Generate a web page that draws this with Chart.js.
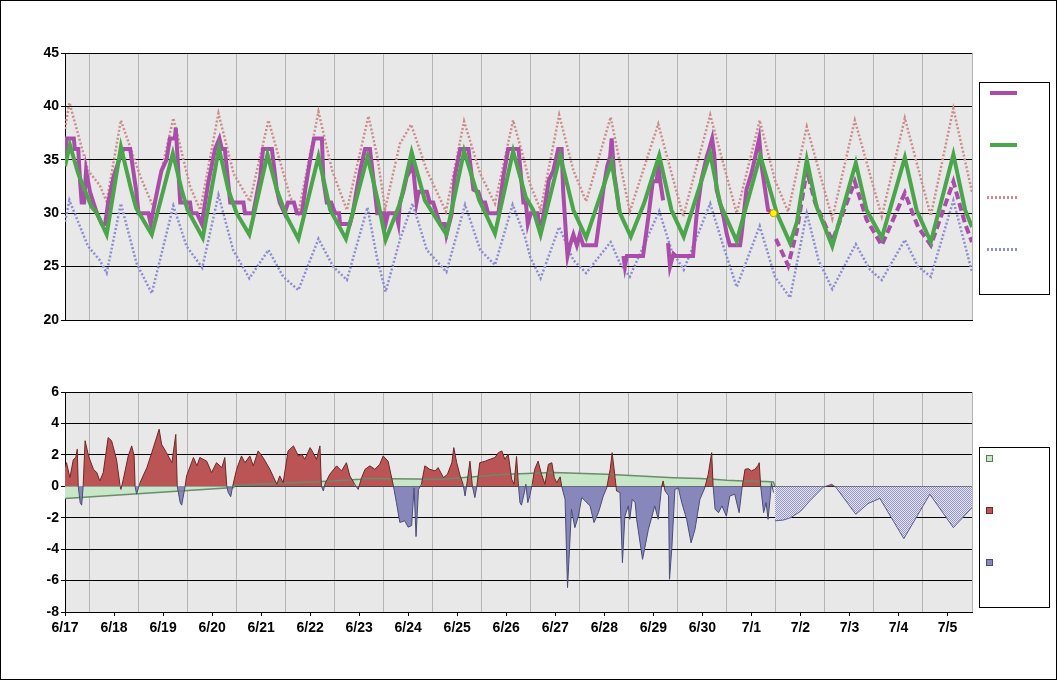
<!DOCTYPE html>
<html>
<head>
<meta charset="utf-8">
<script src="https://cdn.jsdelivr.net/npm/chart.js@4.4.0/dist/chart.umd.min.js"></script>
<style>
  body { margin: 0; background: #fff; }
  #frame { position: absolute; left: 0; top: 0; width: 1055px; height: 678px; border: 1px solid #000; pointer-events: none; }
  .wrap { position: absolute; left: 0; width: 1058px; }
  #topWrap { top: 0; height: 340px; }
  #botWrap { top: 370px; height: 311px; }
  .legend { position: absolute; left: 979px; width: 71px; border: 1.5px solid #000; box-sizing: border-box; background: #fff; }
  .ln { position: absolute; height: 4px; }
  .dot { position: absolute; height: 3px; }
  .sq { position: absolute; width: 5px; height: 5px; border: 1px solid; }
</style>
</head>
<body>
<div id="frame"></div>
<div class="wrap" id="topWrap"><canvas id="topChart"></canvas></div>
<div class="wrap" id="botWrap"><canvas id="botChart"></canvas></div>

<div class="legend" style="top:82px;height:213px"></div>
<div class="ln" style="left:990px;top:91px;width:27px;background:#aa4daa"></div>
<div class="ln" style="left:990px;top:143px;width:27px;background:#4ba64b"></div>
<div class="dot" style="left:987px;top:196px;width:30px;background:repeating-linear-gradient(90deg,#cc8c8c 0 2px,transparent 2px 4px)"></div>
<div class="dot" style="left:987px;top:248px;width:30px;background:repeating-linear-gradient(90deg,#8c8cd2 0 2px,transparent 2px 4px)"></div>

<div class="legend" style="top:447px;height:161px"></div>
<div class="sq" style="left:986px;top:455px;background:#c8e6c8;border-color:#5a7a5a"></div>
<div class="sq" style="left:986px;top:507px;background:#bb5555;border-color:#6e2626"></div>
<div class="sq" style="left:986px;top:559px;background:#8787bb;border-color:#4b4b78"></div>

<script>
// x values are days after 6/17 00:00
var dayLabels = ['6/17','6/18','6/19','6/20','6/21','6/22','6/23','6/24','6/25','6/26',
                 '6/27','6/28','6/29','6/30','7/1','7/2','7/3','7/4','7/5'];

// observed temperature
var obsTemp = [[0,35],[0.035,37],[0.18,37],[0.2,36],[0.27,36],[0.31,32.8],[0.34,31],[0.39,31],[0.43,34],
  [0.51,32],[0.58,31],[0.65,30],[0.75,29],[0.82,29],[0.88,31],[0.99,33.4],[1.09,34.8],[1.19,36],[1.33,36],
  [1.36,35],[1.45,32.2],[1.5,30],[1.7,30],[1.75,29],[1.79,30],[1.94,33.4],[1.97,34],[2.07,35],[2.14,37],
  [2.24,37],[2.26,38],[2.29,35.6],[2.35,31],[2.55,31],[2.58,30],[2.69,30],[2.79,29],[2.92,32.8],[3.06,36],
  [3.15,37],[3.2,36],[3.26,36],[3.37,31],[3.64,31],[3.67,30],[3.84,30],[3.98,33.4],[4.04,36],[4.22,36],
  [4.32,32.2],[4.38,31],[4.48,30],[4.55,31],[4.67,31],[4.73,30],[4.83,30],[4.9,32.2],[5.0,35],[5.08,37],
  [5.24,37],[5.27,33.1],[5.34,31],[5.43,31],[5.51,30],[5.59,30],[5.61,29],[5.81,29],[5.87,30],[5.95,32.2],
  [6.02,34],[6.12,36],[6.22,36],[6.32,32],[6.37,30],[6.51,30],[6.54,29],[6.59,30],[6.75,30],[6.8,29],
  [6.83,31],[6.9,32],[6.97,33.4],[7.04,34],[7.09,34.8],[7.17,31],[7.21,32],[7.38,32],[7.44,31],[7.51,31],
  [7.58,30],[7.65,29],[7.75,29],[7.78,28],[7.89,30],[7.95,33.4],[8.06,36],[8.23,36],[8.33,32.2],[8.43,32],
  [8.5,31],[8.57,31],[8.63,30],[8.84,30],[8.94,33.4],[9.04,36],[9.25,36],[9.35,31],[9.4,31],[9.44,29],
  [9.5,30],[9.64,30],[9.67,29],[9.73,29],[9.87,33.1],[9.96,34],[10.06,36],[10.13,36],[10.16,32.2],
  [10.23,27.2],[10.25,26],[10.3,27],[10.37,28],[10.44,27],[10.5,28],[10.57,27],[10.83,27],[10.91,29.7],
  [10.98,32.2],[11.06,34.4],[11.12,35.3],[11.15,37],[11.2,33.7],[11.25,32.2],[11.3,30.3],[11.34,null],
  [11.39,26],[11.42,25],[11.46,26],[11.79,26],[11.9,29.7],[11.99,33],[12.07,33],[12.1,34.7],[12.14,33],
  [12.2,31.2],[12.25,null],[12.3,27.2],[12.34,25],[12.41,26.2],[12.46,26],[12.81,26],[12.88,29.7],
  [12.98,33.1],[13.09,35.3],[13.14,36],[13.2,37],[13.24,35.6],[13.29,32.2],[13.36,31],[13.43,29.7],
  [13.5,28],[13.56,27],[13.77,27],[13.8,28],[13.9,32.2],[14.0,33.7],[14.07,35.1],[14.16,37],[14.21,34.4],
  [14.28,32.2],[14.34,30.3],[14.45,30]];

// forecast temperature (dashed)
var fcstTemp = [[14.5,27.6],[14.75,25.1],[14.93,28.4],[15.13,34.0],[15.3,31.0],[15.65,27.4],[16.11,32.95],
  [16.35,29.4],[16.66,27.0],[17.13,31.9],[17.4,28.7],[17.66,27.0],[18.12,32.95],[18.36,29.0],[18.5,27.3]];

// model / normal temperature (green)
var modelTemp = [[0,34.4],[0.1,36.4],[0.27,33.7],[0.54,30.6],[0.65,30.0],[0.85,28.0],[1.14,36.2],[1.35,32.2],
  [1.45,30.5],[1.77,28.0],[2.2,35.6],[2.38,32.2],[2.5,30.3],[2.81,27.7],[3.14,36.1],[3.33,32.2],[3.5,30.0],
  [3.76,28.0],[4.13,35.5],[4.32,32.2],[4.52,29.7],[4.76,27.6],[5.17,35.3],[5.41,30.3],[5.73,27.6],
  [6.17,35.3],[6.38,31.2],[6.54,27.5],[6.84,31.0],[7.07,35.7],[7.34,31.2],[7.78,28.0],[8.14,35.8],
  [8.45,31.2],[8.77,28.1],[9.14,35.8],[9.4,31.5],[9.55,30.3],[9.7,28.0],[10.1,35.4],[10.37,30.3],
  [10.63,27.7],[11.15,34.8],[11.32,30.0],[11.54,27.8],[11.81,30.9],[12.12,35.4],[12.37,30.3],[12.62,27.8],
  [13.16,35.6],[13.36,30.9],[13.7,27.4],[14.18,35.4],[14.52,30.0],[14.79,27.2],[14.93,29.2],[15.13,35.0],
  [15.33,30.6],[15.65,26.9],[16.13,34.7],[16.35,30.3],[16.66,27.7],[17.13,35.2],[17.37,30.3],[17.66,27.3],
  [18.12,35.5],[18.36,30.3],[18.5,28.7]];

// climatological high (pink dotted)
var climHigh = [[0,37.9],[0.09,40.35],[0.47,34.0],[0.71,32.6],[0.85,31.1],[1.14,38.7],[1.54,33.4],[1.8,30.6],
  [2.21,38.9],[2.55,32.5],[2.76,30.3],[3.13,39.35],[3.44,33.7],[3.77,31.1],[4.15,38.7],[4.59,31.55],
  [4.76,30.0],[5.17,39.5],[5.45,34.0],[5.75,30.3],[6.19,39.1],[6.37,35.3],[6.53,30.4],[6.83,36.5],
  [7.06,38.3],[7.38,34.0],[7.77,30.15],[8.14,38.6],[8.47,33.7],[8.77,30.9],[9.14,38.7],[9.38,34.7],
  [9.48,32.8],[9.7,30.3],[10.08,39.2],[10.37,34.0],[10.63,31.1],[11.13,39.0],[11.32,34.7],[11.52,30.15],
  [12.1,38.35],[12.61,29.7],[13.16,39.2],[13.7,30.0],[14.17,38.7],[14.48,33.1],[14.75,30.15],[15.13,38.1],
  [15.65,29.5],[16.11,38.7],[16.66,29.7],[17.13,38.9],[17.66,29.75],[18.12,39.8],[18.5,32.0]];

// climatological low (blue dotted)
var climLow = [[0,29.2],[0.09,31.2],[0.47,26.9],[0.71,25.6],[0.85,24.4],[1.14,30.9],[1.46,25.3],[1.77,22.5],
  [2.21,30.7],[2.48,26.9],[2.8,24.9],[3.13,31.7],[3.43,26.55],[3.76,23.9],[4.15,26.55],[4.45,24.05],
  [4.76,22.8],[5.17,27.6],[5.47,25.0],[5.75,23.75],[6.17,30.55],[6.36,25.9],[6.54,22.65],[6.83,27.5],
  [7.09,30.9],[7.38,26.55],[7.78,24.5],[8.16,30.8],[8.47,26.55],[8.77,25.15],[9.13,30.8],[9.38,27.8],
  [9.49,25.9],[9.7,23.9],[10.08,28.7],[10.37,25.6],[10.63,24.4],[11.13,27.3],[11.32,25.3],[11.52,24.05],
  [12.12,30.2],[12.37,26.55],[12.62,24.7],[13.16,30.9],[13.43,26.9],[13.7,23.1],[14.17,28.8],[14.48,24.05],
  [14.79,22.1],[15.13,30.0],[15.37,25.6],[15.65,22.9],[16.13,27.1],[16.42,24.7],[16.66,23.75],[17.13,27.5],
  [17.4,25.0],[17.66,24.05],[18.12,31.2],[18.5,24.5]];

var nowPoint = [[14.45,30]];

// difference: observed minus model
var obsDiff = [[0,1.19],[0.03,1.5],[0.1,0.55],[0.17,1.7],[0.22,1.83],[0.25,2.36],[0.27,0],[0.31,-1.04],
  [0.34,-1.2],[0.37,0],[0.41,2.9],[0.48,1.93],[0.58,1.08],[0.65,0.87],[0.71,0.34],[0.78,0.87],[0.88,3.1],
  [0.95,2.9],[1.05,1.72],[1.12,0.1],[1.14,-0.2],[1.19,0.45],[1.29,1.93],[1.36,2.57],[1.41,1.93],[1.43,0],
  [1.46,-0.5],[1.53,0.23],[1.67,1.19],[1.77,2.14],[1.92,3.63],[1.97,2.67],[2.07,2.14],[2.18,1.5],[2.26,3.3],
  [2.29,0],[2.35,-1.04],[2.38,-1.2],[2.45,0],[2.48,0.66],[2.62,1.83],[2.69,1.3],[2.75,1.83],[2.89,1.6],
  [2.99,0.87],[3.09,1.5],[3.2,1.19],[3.26,1.83],[3.3,0],[3.33,-0.4],[3.38,-0.66],[3.42,0],[3.5,1.08],
  [3.6,1.93],[3.67,1.5],[3.77,1.93],[3.84,1.3],[3.94,2.25],[4.04,1.83],[4.18,1.08],[4.32,0.13],[4.38,0.66],
  [4.45,0.23],[4.55,2.25],[4.66,2.57],[4.76,1.93],[4.83,2.04],[4.89,1.72],[5.0,2.46],[5.06,2.14],[5.13,1.72],
  [5.2,2.57],[5.23,0],[5.27,-0.3],[5.3,0.13],[5.4,0.76],[5.54,1.3],[5.64,0.98],[5.74,1.5],[5.81,0.66],
  [5.91,0.13],[5.98,-0.2],[6.05,0.55],[6.12,1.08],[6.22,1.3],[6.32,1.08],[6.42,1.4],[6.49,1.93],[6.59,1.6],
  [6.7,0],[6.76,-1.04],[6.83,-2.3],[6.93,-2.2],[7.0,-2.6],[7.07,-2.5],[7.12,-0.1],[7.16,-3.2],[7.21,-0.2],
  [7.27,0.13],[7.34,1.3],[7.44,1.08],[7.55,0.98],[7.61,1.19],[7.72,0.55],[7.8,0.76],[7.89,1.5],[7.93,2.46],
  [7.99,1.5],[8.06,0.66],[8.12,0.13],[8.16,-0.62],[8.19,0],[8.26,1.6],[8.31,0],[8.36,-0.72],[8.4,0],
  [8.46,1.5],[8.57,1.6],[8.67,1.72],[8.77,1.83],[8.84,2.14],[8.91,2.25],[8.97,1.72],[9.04,2.04],[9.11,0.45],
  [9.16,0.13],[9.21,1.9],[9.25,0],[9.28,-1.04],[9.31,-1.2],[9.37,-0.4],[9.4,0.13],[9.44,-1.04],[9.48,-0.6],
  [9.53,0.13],[9.58,1.08],[9.65,1.6],[9.72,0.76],[9.79,0.13],[9.86,1.4],[9.93,1.5],[9.98,0.55],[10.03,0.23],
  [10.1,0.6],[10.13,0],[10.2,-0.83],[10.25,-6.45],[10.28,-4.65],[10.33,-1.46],[10.4,-2.63],[10.47,-1.9],
  [10.54,-0.72],[10.61,-0.93],[10.71,-1.25],[10.79,-2.31],[10.88,-1.68],[10.98,-0.62],[11.05,-0.1],
  [11.12,1.08],[11.16,2.14],[11.22,0.55],[11.25,-0.3],[11.32,-0.4],[11.37,-4.86],[11.42,-1.9],[11.49,-1.25],
  [11.52,-2.1],[11.57,-0.83],[11.63,-1.04],[11.66,-2.1],[11.78,-4.65],[11.9,-2.74],[12.03,-1.25],[12.1,-2.1],
  [12.17,0],[12.2,0.34],[12.24,-0.3],[12.31,-0.6],[12.33,-5.92],[12.38,-3.8],[12.44,-0.2],[12.51,-0.1],
  [12.58,-1.04],[12.68,-2.1],[12.77,-3.6],[12.85,-2.74],[12.95,-0.83],[13.05,-0.1],[13.12,0.76],[13.19,2.14],
  [13.22,0],[13.26,-1.46],[13.33,-1.68],[13.4,-1.25],[13.49,-1.9],[13.56,-0.62],[13.66,-0.5],[13.75,-1.68],
  [13.81,-0.1],[13.87,1.08],[13.94,1.12],[14.0,0.98],[14.07,1.08],[14.13,1.3],[14.16,1.5],[14.19,0],
  [14.25,-1.68],[14.3,-1.04],[14.34,-2.1],[14.38,-0.83],[14.41,0.23],[14.45,-0.4]];

// difference: forecast minus model (hatched)
var fcstDiff = [[14.48,-2.2],[14.65,-2.15],[14.8,-2.0],[15.0,-1.6],[15.2,-0.9],[15.47,-0.05],[15.64,0.13],
  [15.72,-0.05],[16.13,-1.78],[16.38,-1.1],[16.62,-0.77],[17.11,-3.33],[17.64,-0.51],[18.12,-2.63],[18.5,-1.36]];

// model minus climatology (light green)
var modelAnom = [[0,-0.78],[3.44,-0.08],[3.46,0.06],[5.47,0.34],[6.02,0.45],[6.11,0.49],[7.68,0.45],
  [9.01,0.76],[9.96,0.87],[11.05,0.76],[12.41,0.55],[12.95,0.49],[13.22,0.45],[13.5,0.38],[13.84,0.34],
  [14.3,0.3],[14.45,0.28],[14.48,0]];

function pts(arr) {
  return arr.map(function(p){ return {x: p[0], y: p[1]}; });
}

Chart.defaults.font.family = "'Liberation Sans', Arial, sans-serif";
Chart.defaults.color = '#000';

var plotBg = {
  id: 'plotBg',
  beforeDraw: function(chart) {
    var a = chart.chartArea, ctx = chart.ctx;
    ctx.save();
    ctx.fillStyle = '#e8e8e8';
    ctx.fillRect(a.left, a.top, a.right - a.left, a.bottom - a.top);
    ctx.restore();
  }
};

function halfDayGrid(c) {
  return c.tick && c.tick.value % 1 !== 0 ? '#b4b4b4' : 'rgba(0,0,0,0)';
}

var tickFont = {size: 14, weight: 'bold'};

var topChart = new Chart(document.getElementById('topChart'), {
  type: 'line',
  data: {
    datasets: [
      {data: pts(nowPoint), showLine: false, pointRadius: 3.5, pointBackgroundColor: '#ffff00',
       pointBorderColor: '#e09000', pointBorderWidth: 1},
      {data: pts(modelTemp), borderColor: '#4ba64b', borderWidth: 4, pointRadius: 0},
      {data: pts(obsTemp), borderColor: '#aa4daa', borderWidth: 4, pointRadius: 0},
      {data: pts(fcstTemp), borderColor: '#aa4daa', borderWidth: 4, borderDash: [8, 4], pointRadius: 0},
      {data: pts(climHigh), borderColor: '#cc8c8c', borderWidth: 2.5, borderDash: [2, 2], pointRadius: 0},
      {data: pts(climLow), borderColor: '#8c8cd2', borderWidth: 2.5, borderDash: [2, 2], pointRadius: 0}
    ]
  },
  options: {
    responsive: true,
    maintainAspectRatio: false,
    animation: false,
    layout: {padding: {top: 53, right: 86, bottom: 20, left: 0}},
    plugins: {legend: {display: false}, tooltip: {enabled: false}},
    scales: {
      x: {
        type: 'linear', min: 0, max: 18.5,
        ticks: {display: false, stepSize: 0.5, autoSkip: false},
        grid: {color: halfDayGrid, drawTicks: false},
        border: {color: '#000'},
        afterFit: function(s){ s.height = 0; }
      },
      y: {
        min: 20, max: 45,
        ticks: {stepSize: 5, font: tickFont, padding: 2},
        grid: {color: '#000', tickColor: '#000', tickLength: 4},
        border: {color: '#000'},
        afterFit: function(s){ s.width = 65; }
      }
    }
  },
  plugins: [plotBg]
});

function hatch() {
  var c = document.createElement('canvas');
  c.width = 2; c.height = 2;
  var g = c.getContext('2d');
  g.fillStyle = '#e6e6f2'; g.fillRect(0, 0, 2, 2);
  g.fillStyle = '#9494c8'; g.fillRect(0, 0, 1, 1); g.fillRect(1, 1, 1, 1);
  return g.createPattern(c, 'repeat');
}

var botChart = new Chart(document.getElementById('botChart'), {
  type: 'line',
  data: {
    datasets: [
      {data: pts(obsDiff), borderWidth: 1, pointRadius: 0,
       fill: {target: 'origin', above: '#bb5555', below: '#8787bb'},
       segment: {borderColor: function(c){ return (c.p0.parsed.y + c.p1.parsed.y) / 2 >= 0 ? '#6e2626' : '#4b4b78'; }}},
      {data: pts(fcstDiff), borderWidth: 1, borderColor: '#5c5c8e', pointRadius: 0,
       fill: {target: 'origin', above: '#bb5555', below: hatch()}},
      {data: pts(modelAnom), borderWidth: 1.5, borderColor: '#6b8b6b', backgroundColor: '#c8e6c8',
       pointRadius: 0, fill: 'origin'}
    ]
  },
  options: {
    responsive: true,
    maintainAspectRatio: false,
    animation: false,
    layout: {padding: {top: 22, right: 86, bottom: 39, left: 0}},
    plugins: {legend: {display: false}, tooltip: {enabled: false}, filler: {drawTime: 'beforeDatasetsDraw'}},
    scales: {
      x: {
        type: 'linear', min: 0, max: 18.5,
        ticks: {stepSize: 0.5, autoSkip: false, maxRotation: 0, font: tickFont, padding: 4,
                callback: function(v){ return Number.isInteger(v) ? dayLabels[v] : ''; }},
        grid: {color: halfDayGrid, tickLength: 4,
               tickColor: function(c){ return c.tick && c.tick.value % 1 === 0 ? '#000' : 'rgba(0,0,0,0)'; }},
        border: {color: '#000'},
        afterFit: function(s){ s.height = 30; }
      },
      y: {
        min: -8, max: 6,
        ticks: {stepSize: 2, font: tickFont, padding: 2},
        grid: {color: '#000', tickColor: '#000', tickLength: 4},
        border: {color: '#000'},
        afterFit: function(s){ s.width = 65; }
      }
    }
  },
  plugins: [plotBg]
});
</script>
</body>
</html>
